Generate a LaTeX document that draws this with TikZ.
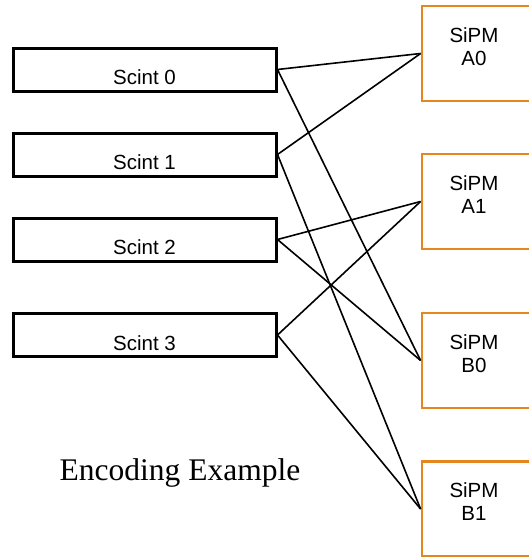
\documentclass[tikz,border=0pt]{standalone}
\usepackage{fontspec}
\setmainfont{Liberation Serif}
\newfontfamily\arialfont{Liberation Sans}
\definecolor{sipmorange}{HTML}{E6861E}

\begin{document}
\begin{tikzpicture}[x=1pt,y=-1pt,
    scint/.style={rectangle, draw, line width=3pt, minimum width=263pt, minimum height=43pt, inner sep=0pt},
    scinttext/.style={font=\arialfont\fontsize{20.5}{24}\selectfont, yshift=-8pt},
    sipm/.style={rectangle, draw=sipmorange, line width=2.8pt, minimum width=124pt, minimum height=95pt, inner sep=0pt},
    sipmtext/.style={font=\arialfont\fontsize{20.5}{23}\selectfont, align=center, xshift=-10pt, yshift=7pt},
    wire/.style={line width=1.6pt}]

        \useasboundingbox (0,0) rectangle (529,557);
        \clip (0,0) rectangle (529,557);

        \node[scint, label={[scinttext]center:Scint 0}] (s0) at (144.5, 69.5) {};
        \node[scint, label={[scinttext]center:Scint 1}] (s1) at (144.5, 154.5) {};
        \node[scint, label={[scinttext]center:Scint 2}] (s2) at (144.5, 239.5) {};
        \node[scint, label={[scinttext]center:Scint 3}] (s3) at (144.5, 335) {};

        \node[sipm, label={[sipmtext]center:{SiPM\\A0}}] (a0) at (484, 53.5) {};
        \node[sipm, label={[sipmtext]center:{SiPM\\A1}}] (a1) at (484, 201.5) {};
        \node[sipm, label={[sipmtext]center:{SiPM\\B0}}] (b0) at (484, 360.5) {};
        \node[sipm, label={[sipmtext]center:{SiPM\\B1}}] (b1) at (484, 509) {};

        \node[font=\fontsize{31.5}{36}\selectfont] (title) at (180, 473) {Encoding Example};

        \draw[wire] (s0.east) -- (a0.west);
        \draw[wire] (s0.east) -- (b0.west);
        \draw[wire] (s1.east) -- (a0.west);
        \draw[wire] (s1.east) -- (b1.west);
        \draw[wire] (s2.east) -- (a1.west);
        \draw[wire] (s2.east) -- (b0.west);
        \draw[wire] (s3.east) -- (a1.west);
        \draw[wire] (s3.east) -- (b1.west);

    \end{tikzpicture}
\end{document}
